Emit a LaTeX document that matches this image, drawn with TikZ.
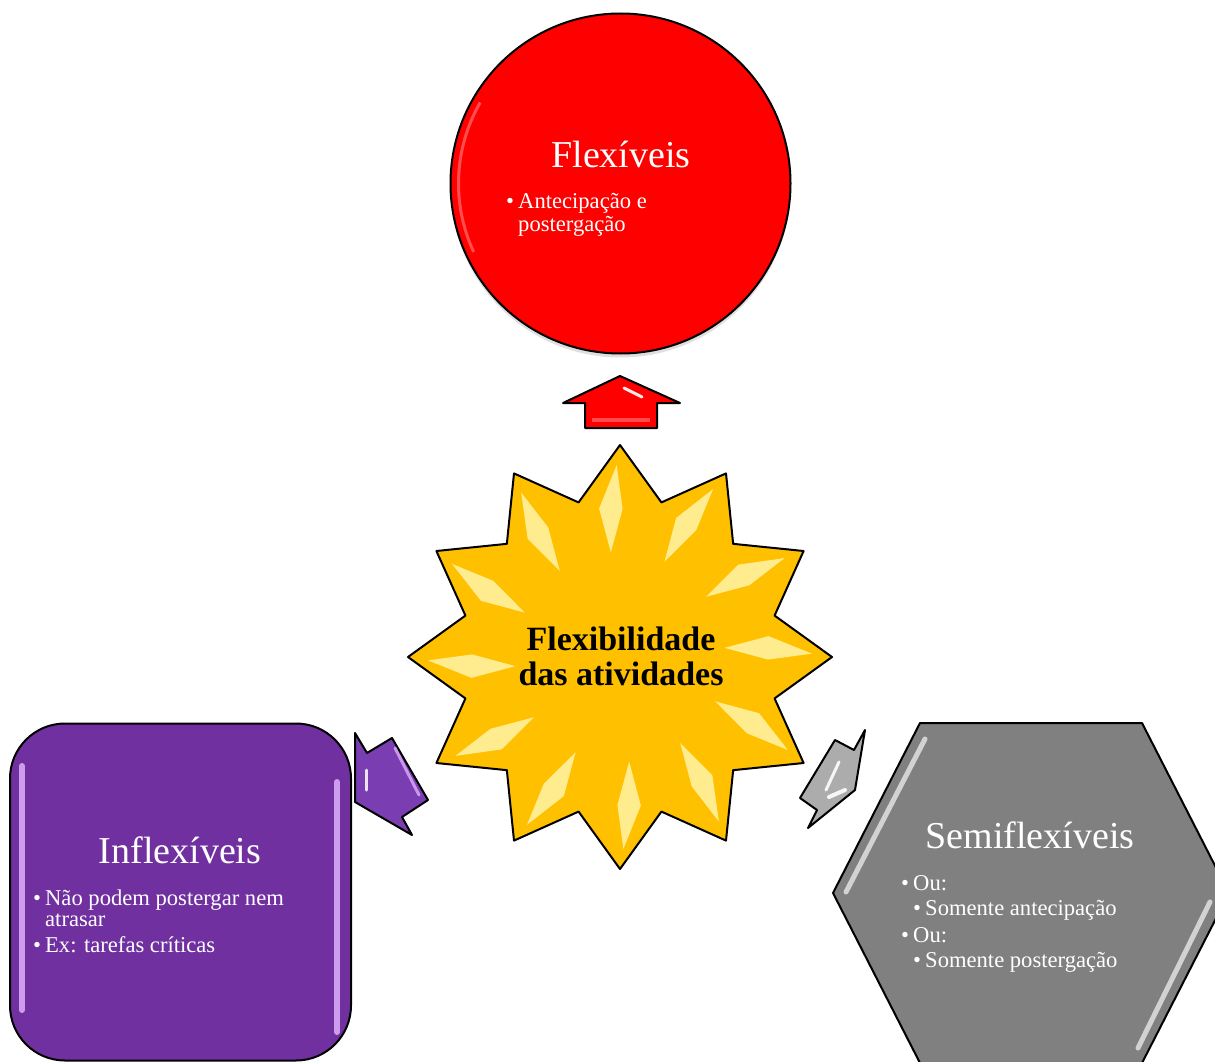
\documentclass[tikz,border=0pt]{standalone}
\usepackage{fontspec}
\setmainfont{Liberation Serif}
\usetikzlibrary{shapes.geometric,shadows,calc}
\definecolor{gold}{RGB}{255,192,0}
\definecolor{rred}{RGB}{255,0,0}
\definecolor{ppurple}{RGB}{112,48,160}
\definecolor{ggray}{RGB}{128,128,128}
\definecolor{agray}{RGB}{172,172,172}
\definecolor{apurple}{RGB}{122,62,178}
\definecolor{lavender}{RGB}{222,175,250}
\begin{document}
\begin{tikzpicture}[x=1pt,y=-1pt,
  shapeline/.style={draw=black, line width=2pt, line join=round},
  titletext/.style={text=white, font=\fontsize{38}{44}\selectfont, inner sep=0pt, anchor=base},
  bodytext/.style={text=white, font=\fontsize{22.6}{26}\selectfont, inner sep=0pt, anchor=base west},
  centertext/.style={text=black, font=\bfseries\fontsize{34}{36}\selectfont, inner sep=0pt, anchor=base},
  gloss/.style={line width=5pt, line cap=round, draw=white, opacity=0.65},
  facet/.style={fill=yellow!25!white, opacity=0.75, draw=none},
]
\useasboundingbox (0,0) rectangle (1215,1062);
\fill[white] (0,0) rectangle (1215,1062);

% ---- top circle
\node[shapeline, circle, fill=rred, minimum size=340pt, inner sep=0pt,
      drop shadow={opacity=0.25, shadow xshift=0pt, shadow yshift=-4pt}] (flex) at (620.5,183.5) {};
\draw[draw=white, opacity=0.3, line width=3pt] ($(flex.center)+(-150:162)$) arc[start angle=-150, end angle=-205, radius=162];

% ---- central star
\node[shapeline, star, star points=12, star point ratio=1.325, minimum size=424pt, inner sep=0pt, fill=gold] (centro) at (620,657) {};
\begin{scope}[shift={(centro.center)}]
  \foreach \k in {0,...,11}{
    \pgfmathsetmacro{\t}{90+30*\k}
    \path[facet] ({-(\t+1)}:192) -- ({-(\t+8)}:150) -- ({-(\t+5)}:105) -- ({-(\t-1)}:148) -- cycle;
  }
\end{scope}

% ---- left rounded square
\node[shapeline, rectangle, rounded corners=55pt, fill=ppurple, minimum width=341pt, minimum height=337pt, inner sep=0pt] (inflex) at (180.5,892) {};
\draw[gloss, draw=lavender, opacity=0.85, line width=6pt] (22,766) -- (22,1010);
\draw[gloss, draw=lavender, opacity=0.85, line width=6pt] (337,782) -- (337,1032);

% ---- right hexagon
\draw[shapeline, fill=ggray] (833,893) -- (920,723) -- (1142,723) -- (1229,893) -- (1142,1063) -- (920,1063) -- cycle;
\coordinate (semi) at (1031,893);
\draw[gloss] (925,739) -- (846,892);
\draw[gloss] (1210,902) -- (1138,1048);

% ---- arrows
\draw[shapeline, fill=rred] (620,376) -- (680,403) -- (657,403) -- (657,428) -- (585,428) -- (585,403) -- (563,403) -- cycle;
\draw[draw=white, line width=3pt, line cap=round, opacity=0.9] (624,388) -- (642,397);
\draw[draw=white, line width=4pt, opacity=0.3] (592,420) -- (650,420);

\draw[shapeline, fill=apurple] (355,733) -- (367,753) -- (392,738) -- (428,800) -- (402,817) -- (412,835) -- (355,802) -- cycle;
\draw[draw=white, line width=3pt, line cap=round, opacity=0.85] (366,770) -- (366,790);
\draw[draw=lavender, line width=3pt, line cap=round, opacity=0.8] (395,748) -- (419,795);

\draw[shapeline, fill=agray] (835,740) -- (854,750) -- (865,730) -- (855,790) -- (808,828) -- (817,810) -- (800,798) -- cycle;
\draw[draw=white, line width=3pt, line cap=round, opacity=0.9] (839,762) -- (826,790);
\draw[draw=white, line width=4pt, line cap=round, opacity=0.9] (829,797) -- (845,790);

% ---- texts
\node[titletext] (t1) at (621,167) {Flexíveis};
\node[bodytext] (b11) at (506,208) {\makebox[12pt][l]{•}Antecipação e};
\node[bodytext] (b12) at (518,231) {postergação};

\node[centertext] (c1) at (621,650) {Flexibilidade};
\node[centertext] (c2) at (621,685) {das atividades};

\node[titletext] (t2) at (180,863) {Inflexíveis};
\node[bodytext] (b21) at (33,905) {\makebox[12pt][l]{•}Não podem postergar nem};
\node[bodytext] (b22) at (45,926) {atrasar};
\node[bodytext] (b23) at (33,952) {\makebox[12pt][l]{•}Ex: tarefas críticas};

\node[titletext] (t3) at (1030,848) {Semiflexíveis};
\node[bodytext] (b31) at (901,890) {\makebox[12pt][l]{•}Ou:};
\node[bodytext] (b32) at (913,915) {\makebox[12pt][l]{•}Somente antecipação};
\node[bodytext] (b33) at (901,942) {\makebox[12pt][l]{•}Ou:};
\node[bodytext] (b34) at (913,967) {\makebox[12pt][l]{•}Somente postergação};
\end{tikzpicture}
\end{document}
